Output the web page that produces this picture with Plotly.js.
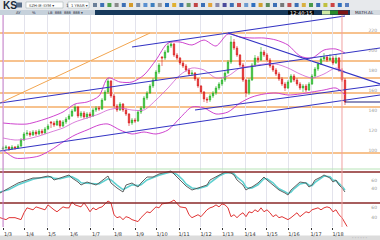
<!DOCTYPE html>
<html><head><meta charset="utf-8">
<script src="https://cdn.plot.ly/plotly-3.0.1.min.js"></script>
<style>html,body{margin:0;padding:0;background:#fff;overflow:hidden}#chart{width:380px;height:240px}</style>
</head><body><div id="chart"></div>
<script>
// ---------- DATA ----------
const bars = [1,2,3,4,5,6,7,8,9,10,11,12,13,14,15,16,17,18,19,20,21,22,23,24,25,26,27,28,29,30,31,32,33,34,35,36,37,38,39,40,41,42,43,44,45,46,47,48,49,50,51,52,53,54,55,56,57,58,59,60,61,62,63,64,65,66,67,68,69,70,71,72,73,74,75,76,77,78,79,80,81,82,83,84,85,86,87,88,89,90,91,92,93,94,95,96,97,98,99,100,101,102,103,104,105,106,107,108,109,110,111,112,113,114,115];
const openP = [101,102,103,101,103,102,104,110,116,117,
115,118,116,119,117,121,128,127,125,129,
124,128,131,134,139,143,134,137,133,136,
134,140,142,141,150,158,169,154,144,140,
146,140,136,127,130,129,138,142,152,157,
164,170,178,193,192,198,204,206,195,192,
187,184,180,176,177,171,164,158,151,150,
154,157,162,166,170,177,188,208,202,195,
185,170,157,170,185,192,190,198,195,190,
184,180,176,171,166,162,168,174,170,166,
162,164,160,166,174,181,186,191,193,190,
192,187,192,180,170];
const highP = [104,105,104,105,104,106,112,118,120,119,
120,120,121,121,123,126,129,129,131,130,
130,133,136,141,146,144,139,139,138,138,
142,144,144,152,160,172,170,156,146,148,
147,142,137,132,132,140,144,154,159,166,
172,180,187,194,200,207,209,207,197,193,
189,186,182,180,178,172,165,159,153,156,
159,164,168,172,179,190,214,211,204,196,
187,171,172,187,195,194,203,200,197,192,
186,182,178,173,168,170,176,176,172,168,
166,166,168,176,183,188,194,197,195,196,
194,196,193,182,172];
const lowP = [99,100,99,100,100,101,103,109,114,113,
114,114,115,115,116,120,122,123,124,122,
123,126,130,133,138,132,132,131,131,132,
133,138,139,140,149,156,152,142,138,139,
138,134,124,125,127,128,136,141,150,156,
162,169,176,184,190,197,202,193,190,185,
182,178,174,174,169,162,156,148,147,148,
152,155,160,164,168,176,186,200,193,183,
168,153,155,169,183,187,189,193,188,182,
178,174,169,164,159,161,167,168,164,160,
158,158,159,165,172,179,185,189,188,189,
185,186,178,168,145];
const closeP = [102,103,101,103,102,104,110,116,117,115,
118,116,119,117,121,124,127,125,129,124,
128,131,134,139,143,134,137,133,136,134,
140,142,141,150,158,169,154,144,140,146,
140,136,127,130,129,138,142,152,157,164,
170,178,185,192,198,204,206,195,192,187,
184,180,176,177,171,164,158,151,150,154,
157,162,166,170,177,188,208,202,195,185,
170,157,170,185,192,190,198,195,190,184,
180,176,171,166,162,168,174,170,166,162,
164,160,166,174,181,186,191,193,190,192,
187,192,180,170,148];

const bandX = [1,5,9,13,17,21,25,29,33,36,40,44,48,52,56,60,64,68,72,76,80,84,88,92,96,100,104,108,112,115];
const bandUpper = [127,126,126,129,133,138,146,148,154,172,168,168,175,190,207,208,205,210,204,216,213,212,212,210,205,194,192,200,201,197];
const bandMiddle = [112,110,111,114,118,122,128,132,136,140,142,140,140,150,162,175,182,180,172,174,182,184,186,186,182,176,172,176,182,178];
const bandLower = [100,92,92,94,100,108,115,120,125,126,120,116,118,116,120,132,143,142,136,138,147,153,156,157,155,156,158,160,162,155];

const upperChX = [44,115], upperChY = [203,234];
const midChX = [0,126.67], midChY = [147,202];
const lowChX = [0,126.67], lowChY = [99,155];
const lowCh2X = [65,126.67], lowCh2Y = [140,165];
const descX = [76,126.67], descY = [217,166];
const orangeDiagX = [0,50], orangeDiagY = [147,217];
const levels = [217,189,172,157,143,97];

const osc1X = [0,3,6,9,11,13,16,17,18,20,23,24,26,27,29,32,33,36,37,39,41,42,44,46,47,49,51,53,56,57,59,61,62,64,66,67,69,70,72,73,75,77,78,79,81,82,83,84,86,87,88,89,91,92,93,95,96,97,98,100,102,103,104,105,107,108,110,111,112,113,114,115];
const osc1Main = [27.5,40,52.5,60,65,65,70,67.5,60,65,
72.5,65,55,47.5,55,47.5,52.5,70,52.5,40,
30,47.5,52.5,42.5,52.5,67.5,67.5,75,80,82.5,
67.5,52.5,45,35,40,42.5,47.5,60,67.5,72.5,
80,77.5,72.5,60,47.5,35,40,42.5,52.5,60,
67.5,60,47.5,40,35,27.5,22.5,35,42.5,55,
52.5,42.5,47.5,60,67.5,72.5,65,55,60,47.5,
40,30];
const osc1Signal = [30,36,48,57,62,65,68,68,64,63,
69,68,60,53,52,50,50,63,60,47,
36,40,48,46,48,60,66,72,78,80,
74,60,50,40,38,40,45,53,63,70,
77,79,75,67,55,42,39,40,48,55,
63,63,53,45,38,31,26,30,38,50,
53,47,46,54,64,70,68,60,58,52,
44,35];
const osc2X = [0,2,3,5,7,8,9,11,12,13,15,16,17,18,19,21,22,23,24,25,27,28,29,30,31,32,33,34,36,37,38,39,40,41,42,43,44,46,47,48,49,50,51,52,53,54,56,57,58,59,60,62,63,64,66,67,68,69,70,71,72,73,74,75,76,77,78,79,80,81,82,83,84,85,86,87,88,89,90,91,92,93,94,96,97,98,99,100,101,102,103,104,106,107,108,109,110,111,112,113,114,115,115.7];
const osc2Val = [40,36,40,40,36,50,60,56,62,60,
56,66,60,56,52,62,60,60,72,66,
62,70,62,52,60,56,60,62,74,70,
46,40,42,36,42,40,36,32,40,46,
52,50,56,62,60,68,70,72,76,70,
62,60,46,40,46,42,50,56,60,62,
66,62,68,66,60,42,46,40,46,50,
42,52,50,56,52,60,52,56,50,42,
46,40,42,36,40,46,50,42,48,52,
50,56,60,56,60,62,60,52,56,46,
40,30,22];
const osc1Level = 80, osc2Level = 70;

const tickVals = [1,8.33,15.67,23,30.33,37.67,45,52.33,59.67,67,74.33,81.67,89,96.33,103.67,111];
const tickText = ["1/3","1/4","1/5","1/6","1/7","1/8","1/9","1/10","1/11","1/12","1/13","1/14","1/15","1/16","1/17","1/18"];
const markerLeft = 1, markerNow = 114;

// ---------- LAYOUT HELPERS ----------
const W = 380, H = 240;
const px = x => x / W, py = y => 1 - y / H;
const rect = (x0, y0, x1, y1, fill, line, layer) => ({type:'rect', xref:'paper', yref:'paper', x0:px(x0), x1:px(x1), y0:py(y1), y1:py(y0), fillcolor:fill, line:line||{width:0}, layer:layer||'above'});

const shapes = [];
// toolbar
shapes.push(rect(0,0,380,10,'#e7e9ec'));
shapes.push(rect(0,10,95,15,'#c6d1db'));
shapes.push(rect(95,10,350,15,'#17395b'));
shapes.push(rect(350,10,380,15,'#d5dbe1'));
shapes.push(rect(288,10.5,314,14.5,'#050505'));
shapes.push(rect(322,10.5,330,14.5,'#cde8a4'));
shapes.push(rect(330,10.5,338,14.5,'#2a8a2a'));
shapes.push(rect(338,10.5,348,14.5,'#7d1616'));
shapes.push(rect(26,2,63,8,'#ffffff',{color:'#9aa',width:0.5}));
shapes.push(rect(68,2,89,8,'#ffffff',{color:'#9aa',width:0.5}));
shapes.push(rect(16,2.5,22,7.5,'#5a6f8a'));
const iconColors = ['#6b7f99','#3d6fb5','#4f9f4f','#8a8a8a','#3d6fb5','#d59a2a','#7a8ca8','#5a8fd0','#3f7fbf','#9a9a9a','#2f6fbf','#e0b030','#3d6fb5','#6a9a6a','#c04545','#3d6fb5','#e3a33a','#8888aa','#4a4a9a','#3d6fb5','#c05050','#6d9bd0','#2f6fbf','#d0a030','#5a8a5a','#3d6fb5','#777','#c05050','#3d6fb5','#d9b040','#4a9a4a','#3d6fb5','#c0c040','#cc4444','#2f6fbf','#5a7fbf'];
iconColors.forEach((c,i) => { const x = 93 + i*7.2; shapes.push(rect(x,3,x+4,7,c)); });
// bottom status bar (below tick labels)
shapes.push(rect(0,235.5,380,240,'#dcdcdc',null,'below'));
// panel separator
shapes.push({type:'line', xref:'paper', yref:'paper', x0:0, x1:1, y0:py(169), y1:py(169), line:{color:'#b8e4b8', width:1}});
// horizontal orange levels
levels.forEach(v => shapes.push({type:'line', xref:'paper', yref:'y', x0:0, x1:1, y0:v, y1:v, line:{color:'#f5ae68', width:1.6}, layer:'below'}));
// oscillator level lines
shapes.push({type:'line', xref:'paper', yref:'y2', x0:0, x1:1, y0:osc1Level, y1:osc1Level, line:{color:'#8a2828', width:1.4}});
shapes.push({type:'line', xref:'paper', yref:'y3', x0:0, x1:1, y0:osc2Level, y1:osc2Level, line:{color:'#8a2828', width:1.4}});
// vertical markers
shapes.push({type:'line', xref:'x', yref:'paper', x0:markerLeft, x1:markerLeft, y0:py(227), y1:py(15), line:{color:'#cc80cc', width:1}});
shapes.push({type:'line', xref:'x', yref:'paper', x0:markerNow, x1:markerNow, y0:py(227), y1:py(15), line:{color:'#f0a0a0', width:1}});

const ann = (x, y, text, opt) => Object.assign({xref:'paper', yref:'paper', x:px(x), y:py(y), text:text, showarrow:false, xanchor:'left', yanchor:'middle', font:{family:'Liberation Sans, Arial', size:5, color:'#333'}}, opt||{});
const annotations = [
  ann(1,5.5,'<b>KS</b>',{font:{family:'Liberation Sans, Arial', size:10, color:'#1a2a3a'}}),
  ann(27,5,'SZH-IE-SYM ▾',{font:{family:'DejaVu Sans', size:3.8, color:'#333'}}),
  ann(64,5,'1',{font:{family:'DejaVu Sans', size:4.5, color:'#333'}}),
  ann(69,5,'1 YEAR ▾',{font:{family:'DejaVu Sans', size:3.8, color:'#333'}}),
  ann(14,12.6,'AY',{font:{family:'DejaVu Sans', size:3.8, color:'#223'}}),
  ann(30,12.6,'%',{font:{family:'DejaVu Sans', size:3.8, color:'#223'}}),
  ann(46,12.6,'LB  888  888  888 ▾',{font:{family:'DejaVu Sans', size:3.6, color:'#223'}}),
  ann(301,12.6,'12:40:15',{xanchor:'center', font:{family:'DejaVu Sans', size:5, color:'#ffffff'}}),
  ann(353,12.6,'MATH.AL',{font:{family:'DejaVu Sans', size:4.2, color:'#223'}}),
  ann(350,237.8,'- - - - - -',{font:{family:'DejaVu Sans', size:4, color:'#777'}})
];

// ---------- TRACES ----------
const lineTrace = (x, y, color, width, yaxis, extra) => Object.assign({type:'scatter', mode:'lines', x:x, y:y, xaxis:'x', yaxis:yaxis||'y', line:{color:color, width:width}, hoverinfo:'skip'}, extra||{});
const traces = [
  lineTrace(orangeDiagX, orangeDiagY, '#f2a650', 1),
  lineTrace(bandX, bandUpper, '#cf45cf', 1, 'y', {line:{color:'#cf45cf', width:1, shape:'spline', smoothing:0.8}}),
  lineTrace(bandX, bandMiddle, '#cf45cf', 0.8, 'y', {line:{color:'#d060d0', width:0.8, shape:'spline', smoothing:0.8}}),
  lineTrace(bandX, bandLower, '#cf45cf', 1, 'y', {line:{color:'#cf45cf', width:1, shape:'spline', smoothing:0.8}}),
  lineTrace(upperChX, upperChY, '#3434c4', 1.2),
  lineTrace(midChX, midChY, '#3434c4', 1.2),
  lineTrace(lowChX, lowChY, '#3434c4', 1.2),
  lineTrace(lowCh2X, lowCh2Y, '#3434c4', 1.2),
  lineTrace(descX, descY, '#3434c4', 1.2),
  {type:'candlestick', x:bars, open:openP, high:highP, low:lowP, close:closeP, xaxis:'x', yaxis:'y', whiskerwidth:0,
   increasing:{line:{color:'#28b028', width:0.6}, fillcolor:'#36c236'},
   decreasing:{line:{color:'#d81e1e', width:0.6}, fillcolor:'#e22424'}, hoverinfo:'skip'},
  lineTrace([bars[bars.length-1], 126.67], [closeP[closeP.length-1], closeP[closeP.length-1]], '#20207a', 1.2),
  lineTrace(osc1X, osc1Signal, '#5fd0d0', 1.6, 'y2'),
  lineTrace(osc1X, osc1Main, '#505050', 0.9, 'y2'),
  lineTrace(osc2X, osc2Val, '#e03434', 1, 'y3')
];

const layout = {
  width: W, height: H, margin:{l:0, r:0, t:0, b:0},
  paper_bgcolor:'#ffffff', plot_bgcolor:'#ffffff',
  showlegend:false, hovermode:false,
  xaxis:{domain:[0,1], range:[0,126.67], anchor:'y3', tickvals:tickVals, ticktext:tickText,
    ticks:'outside', ticklen:2, tickcolor:'#333', ticklabelshift:5, ticklabelstandoff:0,
    tickfont:{family:'DejaVu Sans', size:5, color:'#333'},
    showgrid:true, gridcolor:'#e3e3ec', gridwidth:1, zeroline:false, showline:false,
    rangeslider:{visible:false}, fixedrange:true},
  yaxis:{domain:[1-168/240, 1-15/240], range:[82,235], side:'right', anchor:'x',
    showgrid:false, zeroline:false, showline:false, ticks:'', dtick:20, tick0:0,
    ticklabelposition:'inside', tickfont:{family:'DejaVu Sans', size:4.5, color:'#999'}, fixedrange:true},
  yaxis2:{domain:[1-199/240, 1-168/240], range:[12.5,90], side:'right', anchor:'x',
    showgrid:false, zeroline:false, showline:false, ticks:'', tickvals:[40,60],
    ticklabelposition:'inside', tickfont:{family:'DejaVu Sans', size:4.5, color:'#999'}, fixedrange:true},
  yaxis3:{domain:[1-227/240, 1-199/240], range:[21,78], side:'right', anchor:'x',
    showgrid:false, zeroline:false, showline:false, ticks:'', tickvals:[40,60],
    ticklabelposition:'inside', tickfont:{family:'DejaVu Sans', size:4.5, color:'#999'}, fixedrange:true},
  shapes: shapes,
  annotations: annotations
};
Plotly.newPlot('chart', traces, layout, {staticPlot:true, displayModeBar:false});
</script>
</body></html>
